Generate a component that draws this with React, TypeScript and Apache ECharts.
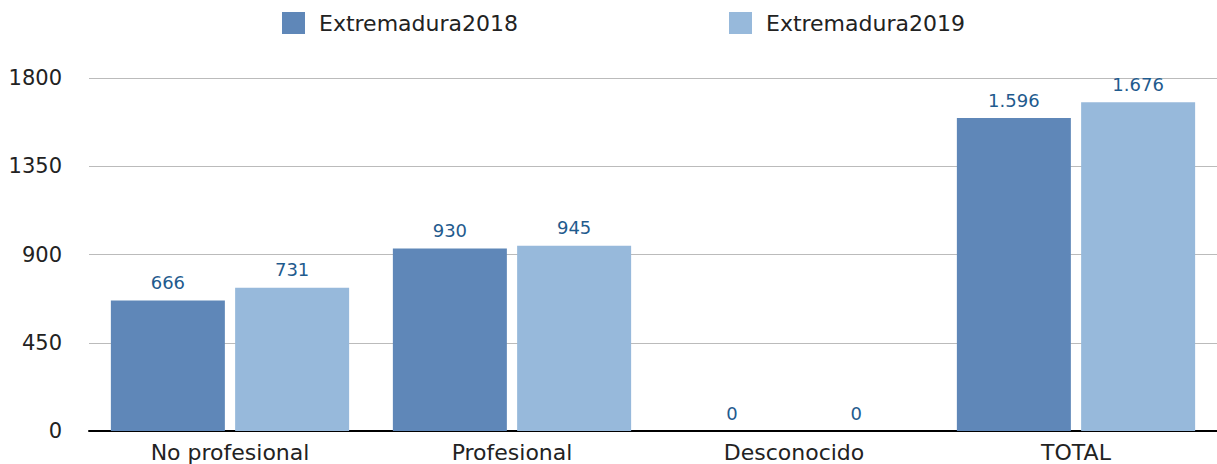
import React, { useEffect, useRef } from "react";
import * as echarts from "echarts";

const categories = ["No profesional", "Profesional", "Desconocido", "TOTAL"];
const values2018 = [666, 930, 0, 1596];
const values2019 = [731, 945, 0, 1676];
const seriesNames = ["Extremadura2018", "Extremadura2019"];
const colors = ["#5f87b8", "#97b9db"];

const FONT = "DejaVu Sans";

function fmt(v: number): string {
  return String(v).replace(/\B(?=(\d{3})+(?!\d))/g, ".");
}

export default function App() {
  const ref = useRef<HTMLDivElement>(null);
  useEffect(() => {
    if (!ref.current) return;
    const chart = echarts.init(ref.current, undefined, { renderer: "svg" });
    const label = {
      show: true,
      position: "top",
      distance: 9,
      color: "#1f5b8e",
      fontSize: 18,
      fontFamily: FONT,
      formatter: (p: any) => fmt(p.value),
    };
    chart.setOption({
      animation: false,
      textStyle: { fontFamily: FONT },
      legend: {
        top: 7,
        left: 277,
        itemWidth: 23,
        itemHeight: 22,
        itemGap: 211,
        icon: "rect",
        textStyle: { fontSize: 22, color: "#222", fontFamily: FONT, padding: [0, 0, 0, 9] },
        data: seriesNames,
      },
      grid: { left: 89, right: 0, top: 78, bottom: 33, containLabel: false },
      xAxis: {
        type: "category",
        data: categories,
        axisLine: { lineStyle: { color: "#000", width: 2 } },
        axisTick: { show: false },
        axisLabel: { fontSize: 22, color: "#222", fontFamily: FONT, margin: 10 },
      },
      yAxis: {
        type: "value",
        min: 0,
        max: 1800,
        interval: 450,
        axisLine: { show: false },
        axisTick: { show: false },
        splitLine: { lineStyle: { color: "#bbb", width: 1 } },
        axisLabel: {
          fontSize: 21,
          color: "#222",
          fontFamily: FONT,
          margin: 27,
          formatter: (v: number) => String(v),
        },
      },
      series: [
        {
          name: seriesNames[0],
          type: "bar",
          data: values2018,
          barWidth: 114,
          barGap: "9%",
          itemStyle: { color: colors[0] },
          label,
        },
        {
          name: seriesNames[1],
          type: "bar",
          data: values2019,
          barWidth: 114,
          itemStyle: { color: colors[1] },
          label,
        },
      ],
    });
    return () => chart.dispose();
  }, []);
  return <div ref={ref} style={{ width: 1217, height: 464, position: "absolute", left: 0, top: 0 }} />;
}
